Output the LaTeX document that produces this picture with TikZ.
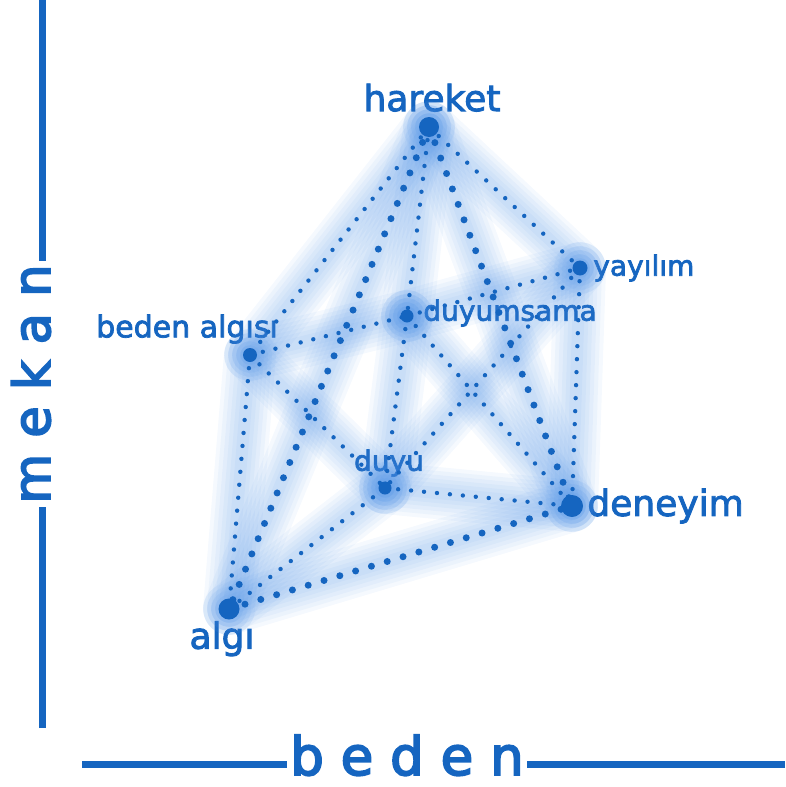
\documentclass[tikz,border=0pt]{standalone}
\usepackage{fontspec}
\setmainfont{DejaVu Sans}
\newfontfamily\lblfont[FakeBold=2.5]{DejaVu Sans}
\newfontfamily\axisfont[FakeBold=3.5]{DejaVu Sans}
\usepackage{xcolor}
\definecolor{mainblue}{RGB}{21,101,192}
\definecolor{glowblue}{RGB}{70,140,228}

\tikzset{
  pt/.style={inner sep=0pt,minimum size=0pt},
  big label/.style={font=\lblfont\fontsize{36}{40}\selectfont},
  small label/.style={font=\lblfont\fontsize{28}{32}\selectfont},
  every label/.style={inner sep=1pt,text=mainblue},
  thin dots/.style={draw=mainblue,line width=4.4pt,line cap=round,dash pattern=on 0pt off 13pt},
  thick dots/.style={draw=mainblue,line width=7pt,line cap=round,dash pattern=on 0pt off 16.5pt},
  glow/.style={draw=glowblue,line width=#1,line cap=round,opacity=0.055},
  axis/.style={draw=mainblue,line width=7pt},
  axis text/.style={text=mainblue,inner sep=3pt,font=\axisfont\fontsize{#1}{#1}\selectfont},
}

\begin{document}
\begin{tikzpicture}[x=1pt,y=-1pt]
\useasboundingbox (0,0) rectangle (785,787);
% axes
\node[axis text=51,rotate=90,anchor=base] at (50,384) (mekan) {m e k a n};
\node[axis text=53,anchor=base] at (407,775) (beden) {b e d e n};
\coordinate (v1) at (42,0);
\coordinate (v2) at (42,728);
\coordinate (h1) at (82,764);
\coordinate (h2) at (785,764);
\draw[axis] (v1) -- (v1 |- mekan.east);
\draw[axis] (v2) -- (v2 |- mekan.west);
\draw[axis] (h1) -- (h1 -| beden.west);
\draw[axis] (h2) -- (h2 -| beden.east);
% points
\node[pt,label={[big label,label distance=14pt,xshift=3pt]north:hareket}] at (429,127) (1){};
\node[pt,label={[small label,label distance=12pt]east:yayılım}] at (580,268) (2){};
\node[pt,label={[small label,label distance=15pt,yshift=3pt]east:duyumsama}] at (407,316) (3){};
\node[pt,label={[small label,font=\lblfont\fontsize{30}{34}\selectfont,label distance=10pt,xshift=-63pt]north:beden algısı}] at (250,355) (4){};
\node[pt,label={[small label,label distance=10pt,xshift=4pt]north:duyu}] at (385,488) (5){};
\node[pt,label={[big label,label distance=14pt]east:deneyim}] at (572,506) (6){};
\node[pt,label={[big label,label distance=11pt,xshift=-7pt]south:algı}] at (229,609) (7){};
% glow
\foreach \a/\b in {1/4,1/3,1/2,4/3,3/2,4/5,4/7,3/5,3/6,2/5,2/6,7/5,5/6,1/7,1/6,7/6}{
\foreach \w in {52,44,36,28,20,12}{
\draw[glow=\w pt] (\a) -- (\b);
}
}
% connections
\foreach \a/\b in {1/4,1/3,1/2,4/3,3/2,4/5,4/7,3/5,3/6,2/5,2/6,7/5,5/6}{
\draw[thin dots] (\a) -- (\b);
}
\foreach \a/\b in {1/7,1/6,7/6}{
\draw[thick dots] (\a) -- (\b);
}
\foreach \p/\r in {1/10,2/7.5,3/6.5,4/7,5/6.5,6/11,7/10.5}{
\fill[mainblue] (\p) circle (\r pt);
}
\end{tikzpicture}
\end{document}
